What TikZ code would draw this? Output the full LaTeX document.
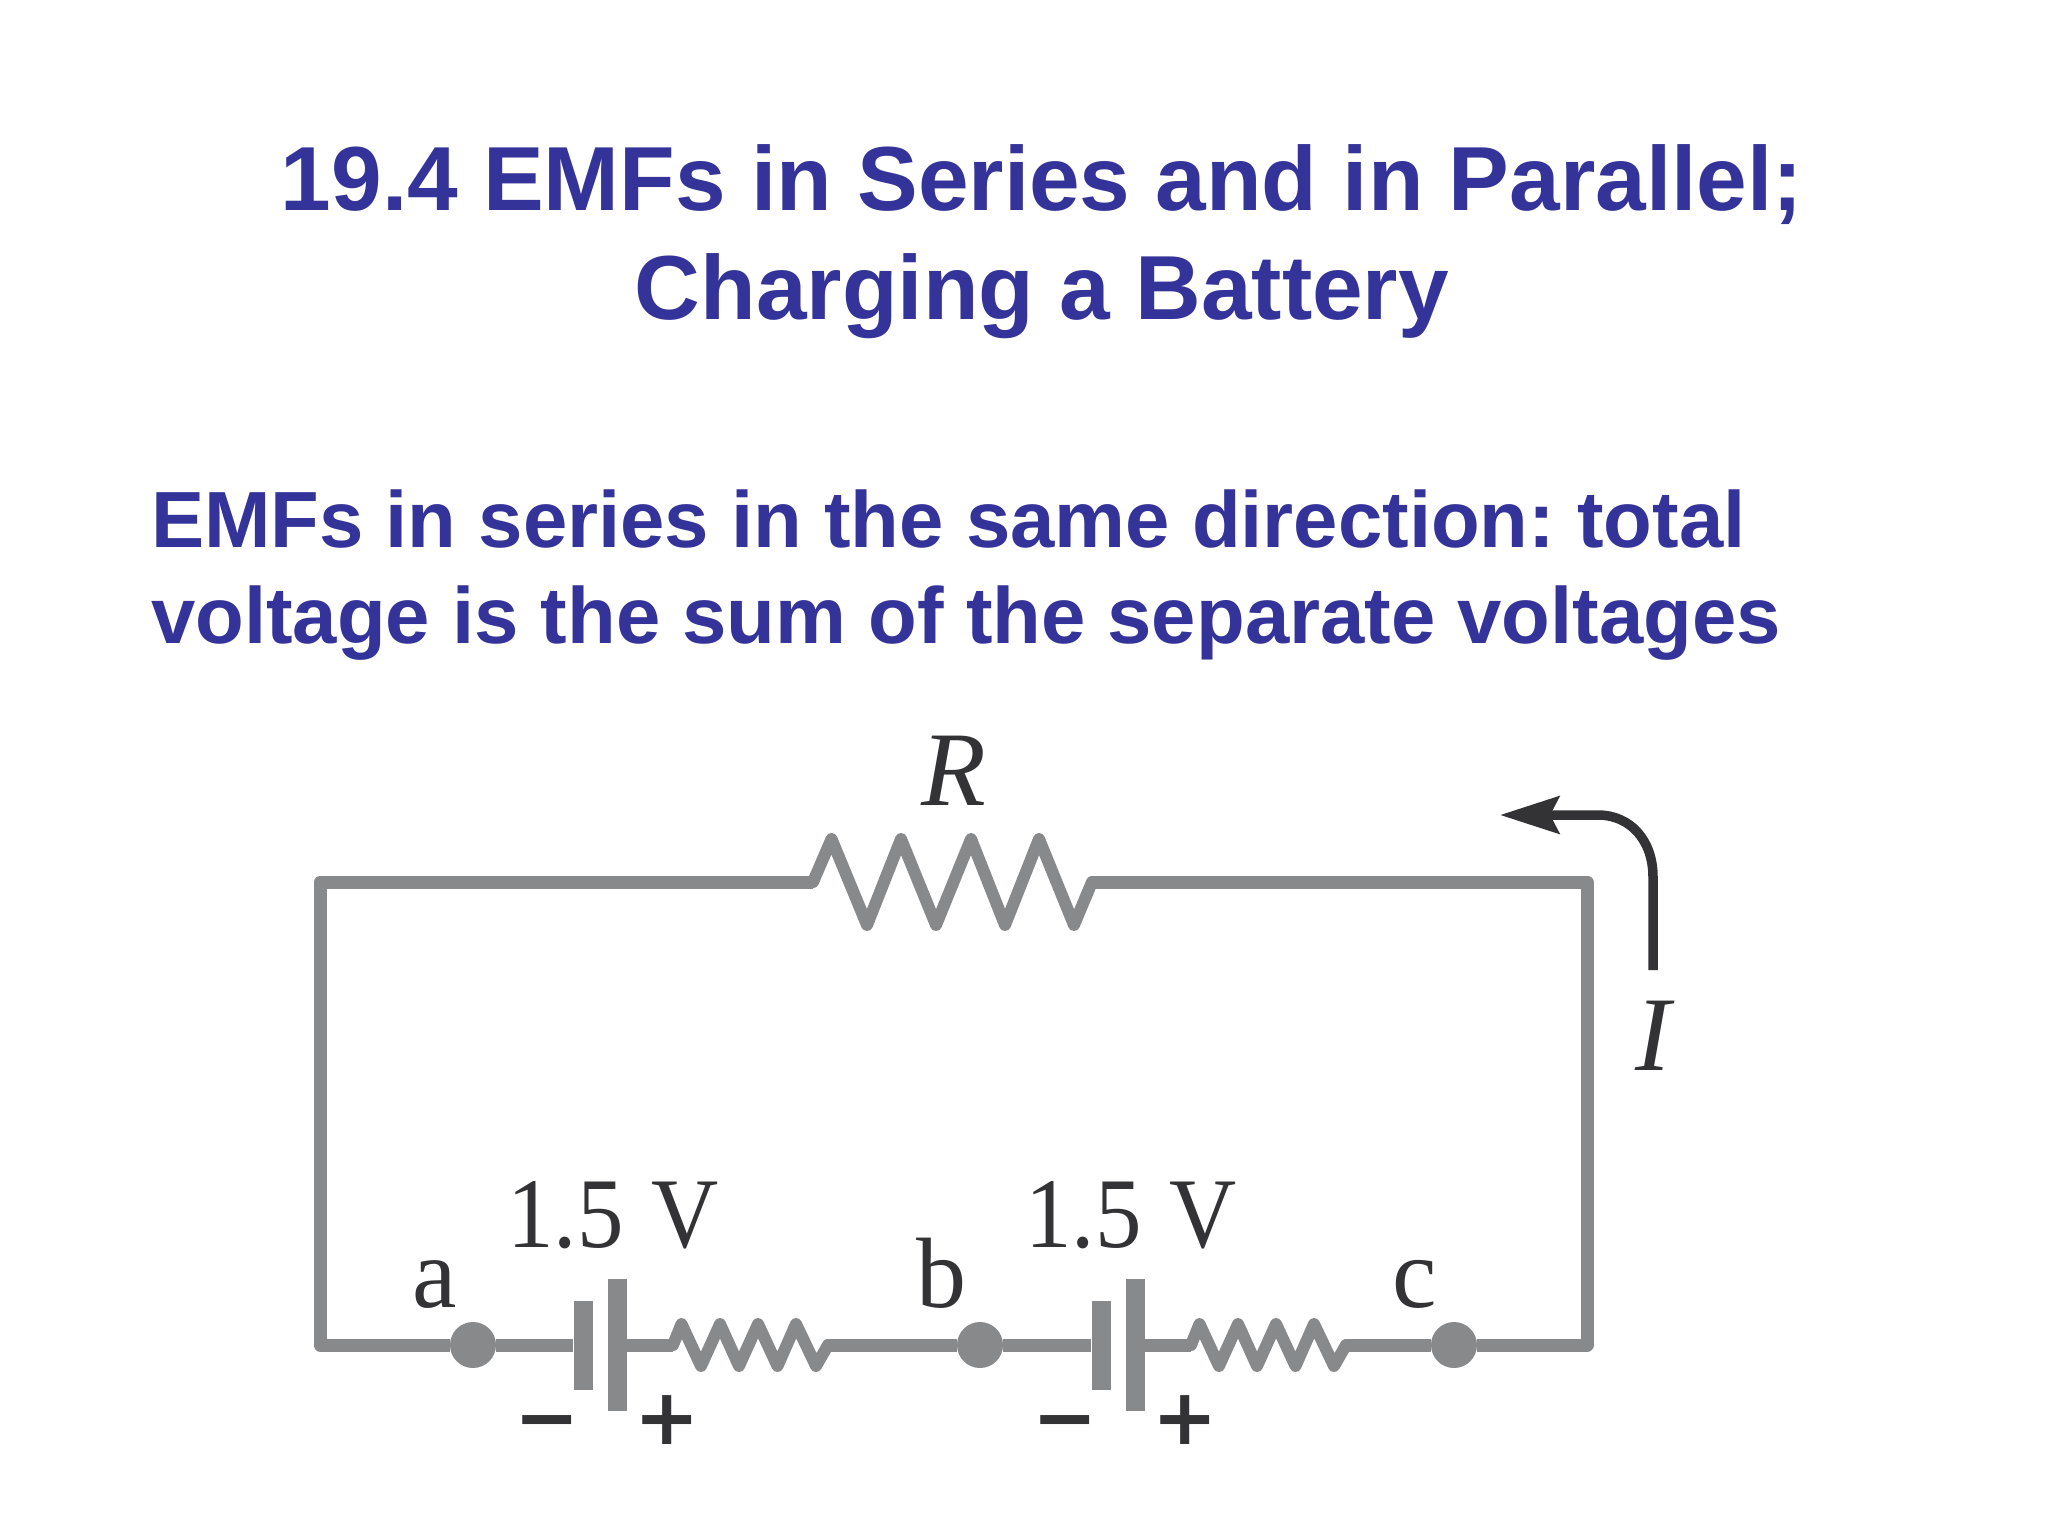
\documentclass[tikz,border=0pt]{standalone}
\usepackage{fontspec}
\setmainfont{Liberation Serif}
\newfontfamily\headfont{Liberation Sans}
\newfontfamily\signfont{DejaVu Sans}
\newfontfamily\voltfont[FakeStretch=0.93]{Liberation Serif}
\usetikzlibrary{arrows.meta}
\definecolor{headblue}{HTML}{333399}
\definecolor{wiregray}{HTML}{88898B}
\definecolor{inkdark}{HTML}{333336}
\frenchspacing
\tikzset{
  x=1pt,y=-1pt,
  title/.style={text=headblue,font=\headfont\bfseries\fontsize{91}{109}\selectfont,align=center,inner sep=0pt},
  bodytext/.style={text=headblue,font=\headfont\bfseries\fontsize{79.7}{96}\selectfont,align=left,inner sep=0pt},
  wire/.style={draw=wiregray,line width=13pt,line join=round},
  zig/.style={draw=wiregray,line width=12pt,line join=round,line cap=round},
  dot/.style={circle,fill=wiregray,minimum size=46pt,inner sep=0pt},
  bar/.style={rectangle,fill=wiregray,minimum width=19pt,inner sep=0pt},
  lab/.style={text=inkdark,font=\fontsize{100}{100}\selectfont,anchor=base,inner sep=0pt},
  volt/.style={text=inkdark,font=\voltfont\fontsize{100}{100}\selectfont,anchor=base,inner sep=0pt},
  sign/.style={text=inkdark,font=\signfont\bfseries\fontsize{78}{78}\selectfont,anchor=base,inner sep=0pt},
  flow/.style={draw=inkdark,line width=9.5pt,-{Stealth[length=59pt,width=37pt,inset=9pt]}},
}
\begin{document}
\begin{tikzpicture}
\useasboundingbox (0,0) rectangle (2048,1536);
\node[title] (head) at (1042,242) {19.4 EMFs in Series and in Parallel;\\Charging a Battery};
\node[bodytext,anchor=west] (text) at (151,575) {EMFs in series in the same direction: total\\voltage is the sum of the separate voltages};

% corners and terminals
\coordinate (tl) at (320,882);
\coordinate (tr) at (1587,882);
\coordinate (bl) at (320,1345);
\coordinate (br) at (1587,1345);
\node[dot] (a) at (473,1345) {};
\node[dot] (b) at (980,1345) {};
\node[dot] (c) at (1454,1345) {};
\node[bar,minimum height=89pt] (n1) at (583,1345) {};
\node[bar,minimum height=132pt] (p1) at (617,1345) {};
\node[bar,minimum height=89pt] (n2) at (1101,1345) {};
\node[bar,minimum height=132pt] (p2) at (1135,1345) {};
\coordinate (rs) at (813,882);
\coordinate (re) at (1092,882);
\coordinate (r1s) at (673,1345);
\coordinate (r1e) at (828,1345);
\coordinate (r2s) at (1191,1345);
\coordinate (r2e) at (1346,1345);

% wires
\draw[wire] (rs) -- (tl) -- (bl) -- (a);
\draw[wire] (re) -- (tr) -- (br) -- (c);
\draw[wire] (a) -- (n1);
\draw[wire] (p1) -- (r1s);
\draw[wire] (r1e) -- (b);
\draw[wire] (b) -- (n2);
\draw[wire] (p2) -- (r2s);
\draw[wire] (r2e) -- (c);

% resistors
\draw[zig] (rs) -- (831.5,839) -- (867,925) -- (901,839) -- (936,925) -- (971,839) -- (1005,925) -- (1039,839) -- (1074,925) -- (re);
\draw[zig] (r1s) -- (681.5,1324) -- (701,1366) -- (720,1324) -- (739,1366) -- (758,1324) -- (777.5,1366) -- (796,1324) -- (816,1366) -- (r1e);
\draw[zig] (r2s) -- (1199.5,1324) -- (1219,1366) -- (1238,1324) -- (1257,1366) -- (1276,1324) -- (1295.5,1366) -- (1314,1324) -- (1334,1366) -- (r2e);

% current arrow
\coordinate (is) at (1653,970);
\coordinate (ib) at (1653,877);
\coordinate (ic) at (1598,815);
\coordinate (ie) at (1500,815);
\draw[flow] (is) -- (ib) .. controls (1653,840) and (1630,815) .. (ic) -- (ie);

% labels
\node[lab,font=\itshape\fontsize{106}{106}\selectfont] (lr) at (954,805) {R};
\node[lab,font=\itshape\fontsize{106}{106}\selectfont] (li) at (1653,1070) {I};
\node[volt] (v1) at (613,1247) {1.5\hspace{0.28em}V};
\node[volt] (v2) at (1131,1247) {1.5\hspace{0.28em}V};
\node[lab] (la) at (435,1307) {a};
\node[lab] (lb) at (941,1307) {b};
\node[lab] (lc) at (1415,1307) {c};
\node[sign] (m1) at (547,1444) {−};
\node[sign] (s1) at (667,1444) {+};
\node[sign] (m2) at (1065,1444) {−};
\node[sign] (s2) at (1185,1444) {+};
\end{tikzpicture}
\end{document}
